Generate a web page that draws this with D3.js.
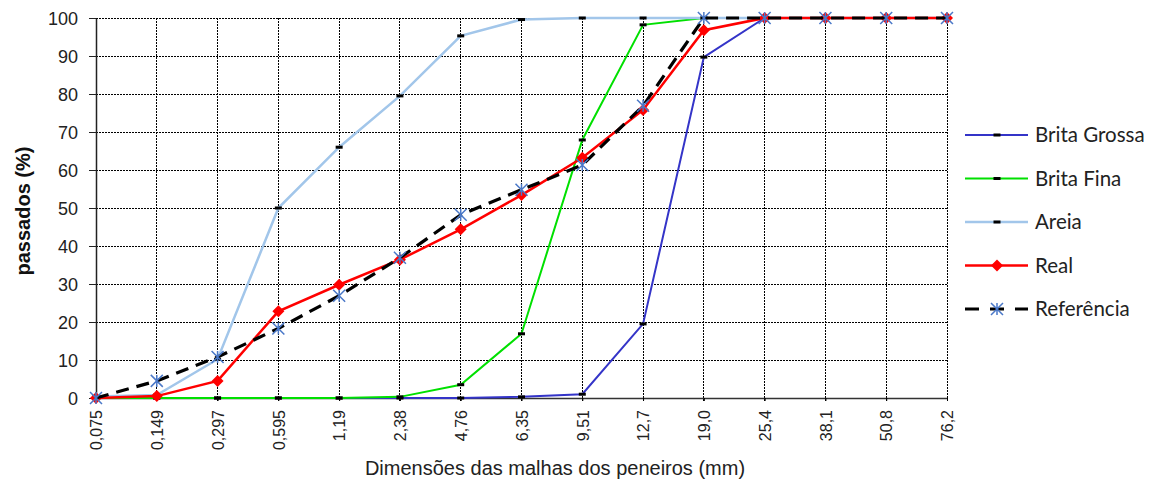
<!DOCTYPE html>
<html>
<head>
<meta charset="utf-8">
<script src="https://cdn.jsdelivr.net/npm/d3@7"></script>
<style>
  body { margin: 0; background: #fff; }
  svg { display: block; }
</style>
</head>
<body>
<svg id="chart" width="1161" height="479"></svg>
<script>
// sieve sizes (mm)
const sieves = ['0,075', '0,149', '0,297', '0,595', '1,19', '2,38', '4,76', '6,35',
  '9,51', '12,7', '19,0', '25,4', '38,1', '50,8', '76,2'];
const yTicks = [0, 10, 20, 30, 40, 50, 60, 70, 80, 90, 100];

// percent passing
const britaGrossa = [0, 0, 0, 0, 0, 0, 0, 0.3, 1, 19.5, 89.7, 100, 100, 100, 100];
const britaFina = [0, 0, 0, 0, 0, 0.3, 3.5, 16.9, 67.9, 98.2, 100, 100, 100, 100, 100];
const areia = [0.4, 0.8, 10.2, 50, 66, 79.5, 95.3, 99.6, 100, 100, 100, 100, 100, 100, 100];
const real = [0, 0.5, 4.5, 22.8, 29.8, 36.4, 44.4, 53.4, 63.2, 75.8, 96.8, 100, 100, 100, 100];
const referencia = [0, 4.5, 10.8, 18.3, 26.9, 36.9, 48.2, 54.8, 61.3, 76.9, 100, 100, 100, 100, 100];

const svg = d3.select('#chart');
const plotLeft = 96, plotRight = 947, plotTop = 18, plotBottom = 398;

const x = d3.scalePoint().domain(sieves).range([plotLeft, plotRight]);
const y = d3.scaleLinear().domain([0, 100]).range([plotBottom, plotTop]);

// dotted grid
const grid = svg.append('g').attr('stroke', '#000').attr('stroke-width', 1)
  .attr('stroke-dasharray', '2,1').attr('shape-rendering', 'crispEdges');
grid.selectAll('.h').data(yTicks.slice(1)).join('line')
  .attr('x1', plotLeft).attr('x2', plotRight)
  .attr('y1', d => y(d)).attr('y2', d => y(d));
grid.selectAll('.v').data(sieves.slice(1)).join('line')
  .attr('x1', d => x(d)).attr('x2', d => x(d))
  .attr('y1', plotTop).attr('y2', plotBottom + 3);

// y axis
const yAxis = svg.append('g')
  .attr('transform', 'translate(' + plotLeft + ',0)')
  .call(d3.axisLeft(y).tickValues(yTicks).tickSize(7).tickPadding(11).tickSizeOuter(0));
yAxis.select('.domain').attr('stroke', '#222').attr('stroke-width', 1.5);
yAxis.selectAll('.tick line').attr('stroke', '#222');
yAxis.selectAll('text').attr('font-family', "'Liberation Sans', Arial, sans-serif")
  .attr('font-size', 18).attr('fill', '#222').attr('dy', '0.36em');

// x axis
const xAxis = svg.append('g')
  .attr('transform', 'translate(0,' + plotBottom + ')')
  .call(d3.axisBottom(x).tickSize(3).tickSizeOuter(0).tickPadding(0));
xAxis.select('.domain').attr('stroke', '#333').attr('stroke-width', 1.5);
xAxis.selectAll('.tick line').attr('stroke', '#000');
xAxis.selectAll('text')
  .attr('font-family', "'Liberation Sans', Arial, sans-serif")
  .attr('font-size', 16).attr('fill', '#222')
  .attr('text-anchor', 'end')
  .attr('transform', 'translate(0,12) rotate(-90)')
  .attr('x', 0).attr('y', 0).attr('dy', '0.36em');

// axis titles
svg.append('text')
  .attr('x', 555).attr('y', 475)
  .attr('text-anchor', 'middle')
  .attr('font-family', "'Liberation Sans', Arial, sans-serif")
  .attr('font-size', 20).attr('fill', '#222')
  .text('Dimensões das malhas dos peneiros (mm)');
svg.append('text')
  .attr('transform', 'translate(30,211) rotate(-90)')
  .attr('text-anchor', 'middle')
  .attr('font-family', "'Liberation Sans', Arial, sans-serif")
  .attr('font-size', 20).attr('font-weight', 'bold').attr('fill', '#111')
  .text('passados (%)');

const line = d3.line().x((d, i) => x(sieves[i])).y(d => y(d));

const series = [
  {name: 'Brita Grossa', values: britaGrossa, color: '#3434c8', width: 2, marker: 'dash'},
  {name: 'Brita Fina', values: britaFina, color: '#00e000', width: 2, marker: 'dash'},
  {name: 'Areia', values: areia, color: '#a2c6ea', width: 2.5, marker: 'dash'},
  {name: 'Real', values: real, color: '#ff0000', width: 2.5, marker: 'diamond'},
  {name: 'Referência', values: referencia, color: '#000', width: 3.2, marker: 'star', dash: '13,8'}
];

// draw one marker at (cx, cy)
function drawMarker(g, type, cx, cy) {
  if (type === 'dash') {
    g.append('rect').attr('x', cx - 3.5).attr('y', cy - 1.5)
      .attr('width', 7).attr('height', 3).attr('fill', '#000');
  } else if (type === 'diamond') {
    g.append('path')
      .attr('d', 'M' + cx + ',' + (cy - 6) + 'L' + (cx + 6) + ',' + cy +
        'L' + cx + ',' + (cy + 6) + 'L' + (cx - 6) + ',' + cy + 'Z')
      .attr('fill', '#ff0000');
  } else if (type === 'star') {
    const r = 6;
    g.append('path')
      .attr('d', 'M' + cx + ',' + (cy - r) + 'V' + (cy + r) +
        'M' + (cx - r) + ',' + (cy - r) + 'L' + (cx + r) + ',' + (cy + r) +
        'M' + (cx - r) + ',' + (cy + r) + 'L' + (cx + r) + ',' + (cy - r))
      .attr('stroke', '#4a78c8').attr('stroke-width', 1.5).attr('fill', 'none');
  }
}

for (const s of series) {
  const g = svg.append('g');
  g.append('path').datum(s.values)
    .attr('d', line)
    .attr('fill', 'none')
    .attr('stroke', s.color)
    .attr('stroke-width', s.width)
    .attr('stroke-dasharray', s.dash || null);
  s.values.forEach((v, i) => drawMarker(g, s.marker, x(sieves[i]), y(v)));
}

// legend
const legend = svg.append('g');
series.forEach((s, i) => {
  const ly = 135 + i * 43.5;
  const g = legend.append('g');
  g.append('line')
    .attr('x1', 965).attr('x2', 1028).attr('y1', ly).attr('y2', ly)
    .attr('stroke', s.color).attr('stroke-width', s.width)
    .attr('stroke-dasharray', s.dash ? '14,11' : null);
  drawMarker(g, s.marker, 997, ly);
  g.append('text')
    .attr('x', 1035).attr('y', ly).attr('dy', '0.36em')
    .attr('font-family', 'Lato, Carlito, sans-serif')
    .attr('font-size', 20.5).attr('fill', '#222')
    .text(s.name);
});
</script>
</body>
</html>
